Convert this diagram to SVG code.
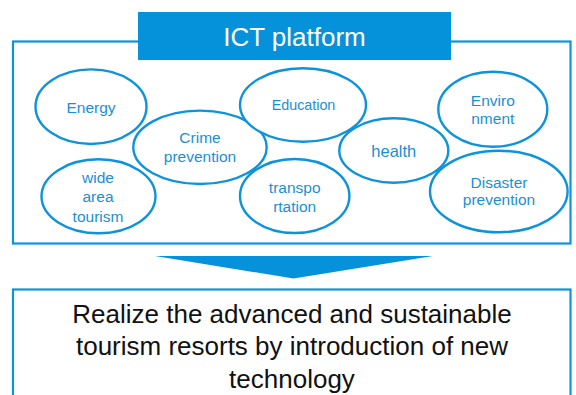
<svg xmlns="http://www.w3.org/2000/svg" width="576" height="395" viewBox="0 0 576 395">
<style>
.frame{fill:#ffffff;stroke:#0d93db;stroke-width:2.2}
.ell{fill:#ffffff;stroke:#0d93db;stroke-width:2.4}
.lbl{font-family:"Liberation Sans",Arial,sans-serif;font-size:15.5px;fill:#1a8fd6;text-anchor:middle}
.title{font-family:"Liberation Sans",Arial,sans-serif;font-size:26px;fill:#ffffff;text-anchor:middle}
.main{font-family:"Liberation Sans",Arial,sans-serif;font-size:26px;fill:#111111;text-anchor:middle}
</style>
<rect width="576" height="395" fill="#ffffff"/>
<g id="platform">
<rect class="frame" x="13" y="41.5" width="557.5" height="202"/>
<rect x="138" y="12" width="313" height="48" fill="#0592da"/>
<text class="title" x="294.5" y="46">ICT platform</text>
</g>
<g id="energy"><ellipse class="ell" cx="91" cy="106.7" rx="55.5" ry="37.3"/><text class="lbl" x="91" y="113.3">Energy</text></g>
<g id="crime"><ellipse class="ell" cx="200" cy="147.3" rx="66.7" ry="36.7"/><text class="lbl" x="200" y="143.3">Crime</text><text class="lbl" x="200" y="161.7">prevention</text></g>
<g id="tourism"><ellipse class="ell" cx="98.5" cy="196.3" rx="57" ry="37"/><text class="lbl" x="98" y="183.3">wide</text><text class="lbl" x="98" y="202">area</text><text class="lbl" x="98" y="221.7">tourism</text></g>
<g id="education"><ellipse class="ell" cx="303" cy="105" rx="63" ry="36.7"/><text class="lbl" x="303.5" y="110" style="font-size:14.3px">Education</text></g>
<g id="transportation"><ellipse class="ell" cx="294.7" cy="196" rx="54.7" ry="37"/><text class="lbl" x="294.7" y="193.3">transpo</text><text class="lbl" x="294.7" y="211.7">rtation</text></g>
<g id="health"><ellipse class="ell" cx="393.8" cy="150.5" rx="54.5" ry="32.2"/><text class="lbl" x="393.8" y="156.7" style="font-size:16.5px">health</text></g>
<g id="environment"><ellipse class="ell" cx="492.8" cy="109.2" rx="54.5" ry="37.5"/><text class="lbl" x="492.8" y="106">Enviro</text><text class="lbl" x="492.8" y="124.3">nment</text></g>
<g id="disaster"><ellipse class="ell" cx="498.8" cy="191.5" rx="68.8" ry="40.8"/><text class="lbl" x="499" y="188.3">Disaster</text><text class="lbl" x="499" y="205">prevention</text></g>
<g id="connectors">
<polygon points="155,256 433,256 293.5,278.5" fill="#0592da"/>
</g>
<g id="goal">
<rect class="frame" x="13" y="289.5" width="557.5" height="120"/>
<text class="main" x="292" y="322.5">Realize the advanced and sustainable</text>
<text class="main" x="292" y="355">tourism resorts by introduction of new</text>
<text class="main" x="292" y="387.5">technology</text>
</g>
</svg>
